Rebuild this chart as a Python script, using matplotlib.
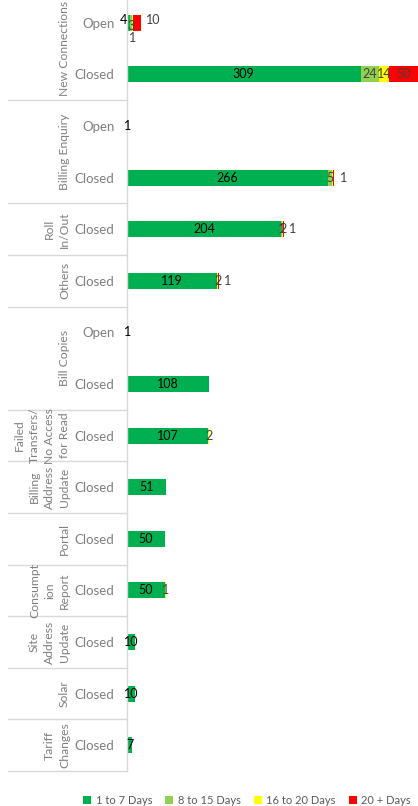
import matplotlib
matplotlib.use("Agg")
import matplotlib.pyplot as plt
import matplotlib.transforms as mtransforms
from matplotlib.patches import Patch

plt.rcParams['font.family'] = ['Lato', 'DejaVu Sans']

# ---- data ----
groups = ["New Connections", "Billing Enquiry", "Roll\nIn/Out", "Others", "Bill Copies",
          "Failed\nTransfers/\nNo Access\nfor Read", "Billing\nAddress\nUpdate", "Portal",
          "Consumpt\nion\nReport", "Site\nAddress\nUpdate", "Solar", "Tariff\nChanges"]
group_sizes = [2, 2, 1, 1, 2, 1, 1, 1, 1, 1, 1, 1]
status = ["Open", "Closed", "Open", "Closed", "Closed", "Closed", "Open", "Closed",
          "Closed", "Closed", "Closed", "Closed", "Closed", "Closed", "Closed"]
series_names = ["1 to 7 Days", "8 to 15 Days", "16 to 20 Days", "20 + Days"]
d1_7 = [4, 309, 1, 266, 204, 119, 1, 108, 107, 51, 50, 50, 10, 10, 7]
d8_15 = [3, 24, 0, 5, 1, 0, 0, 0, 0, 0, 0, 0, 0, 0, 0]
d16_20 = [1, 14, 0, 2, 2, 2, 0, 0, 2, 0, 0, 1, 0, 0, 0]
d20p = [10, 50, 0, 1, 1, 1, 0, 0, 0, 0, 0, 0, 0, 0, 0]

colors = ["#00B050", "#92D050", "#FFFF00", "#FF0000"]
label_colors = ["black", "#404040", "#404040", "#404040"]
# labels that are hidden / moved (row, series) -> (dx px, dy px)  ; None = hidden
label_moves = {(0, 0): (-5, -3), (0, 1): (0, 3), (0, 2): (0, 15), (0, 3): (16, -3),
               (3, 2): None, (3, 3): (10, 0), (4, 3): (9, 0), (5, 3): (9, 0)}

W, H = 418, 806
fig = plt.figure(figsize=(W / 100, H / 100), dpi=100)
ax = fig.add_axes([127 / W, 35 / H, 291 / W, 774 / H])
XMAX = 385
n = len(status)
ypos = list(range(n))
ax.set_xlim(0, XMAX)
ax.set_ylim(n - 0.5, -0.5)

series = [d1_7, d8_15, d16_20, d20p]
left = [0] * n
for s, vals in enumerate(series):
    ax.barh(ypos, vals, left=left, height=0.31, color=colors[s], edgecolor='none', zorder=2)
    for i, v in enumerate(vals):
        if v <= 0:
            continue
        mv = label_moves.get((i, s), (0, 0))
        if mv is None:
            left[i] += v
            continue
        cx = (left[i] + min(left[i] + v, XMAX)) / 2
        ax.annotate(str(v), (cx, i), xytext=(mv[0] * 0.72, -mv[1] * 0.72),
                    textcoords='offset points', ha='center', va='center',
                    fontsize=9, color=label_colors[s], zorder=5, annotation_clip=False)
        left[i] += v

# axes styling
for sp in ['top', 'right', 'bottom']:
    ax.spines[sp].set_visible(False)
ax.spines['left'].set_color('#D9D9D9')
ax.spines['left'].set_linewidth(1)
ax.set_xticks([])
ax.set_yticks(ypos)
ax.set_yticklabels(status, fontsize=9.5, color='#7F7F7F')
ax.tick_params(axis='y', length=0, pad=9)

# group labels and separators
trans = mtransforms.blended_transform_factory(fig.transFigure, ax.transData)
start = 0
for g, sz in zip(groups, group_sizes):
    end = start + sz
    center = (start + end - 1) / 2
    ax.text(70 / W, center, g, transform=trans, rotation=90, ha='right', va='center',
            multialignment='center', fontsize=8.7, color='#7F7F7F', linespacing=1.45,
            clip_on=False)
    ax.plot([8 / W, 127 / W], [end - 0.5, end - 0.5], transform=trans, color='#D9D9D9',
            lw=1, clip_on=False)
    start = end

handles = [Patch(facecolor=c, edgecolor='none', label=l) for c, l in zip(colors, series_names)]
fig.legend(handles=handles, loc='center', bbox_to_anchor=(247 / W, 1 - 800 / H), ncol=4,
           frameon=False, fontsize=8, handlelength=0.7, handleheight=0.7,
           handletextpad=0.4, columnspacing=1.2, labelcolor='#595959',
           borderpad=0, borderaxespad=0)

fig.savefig("out.png", dpi=100)
